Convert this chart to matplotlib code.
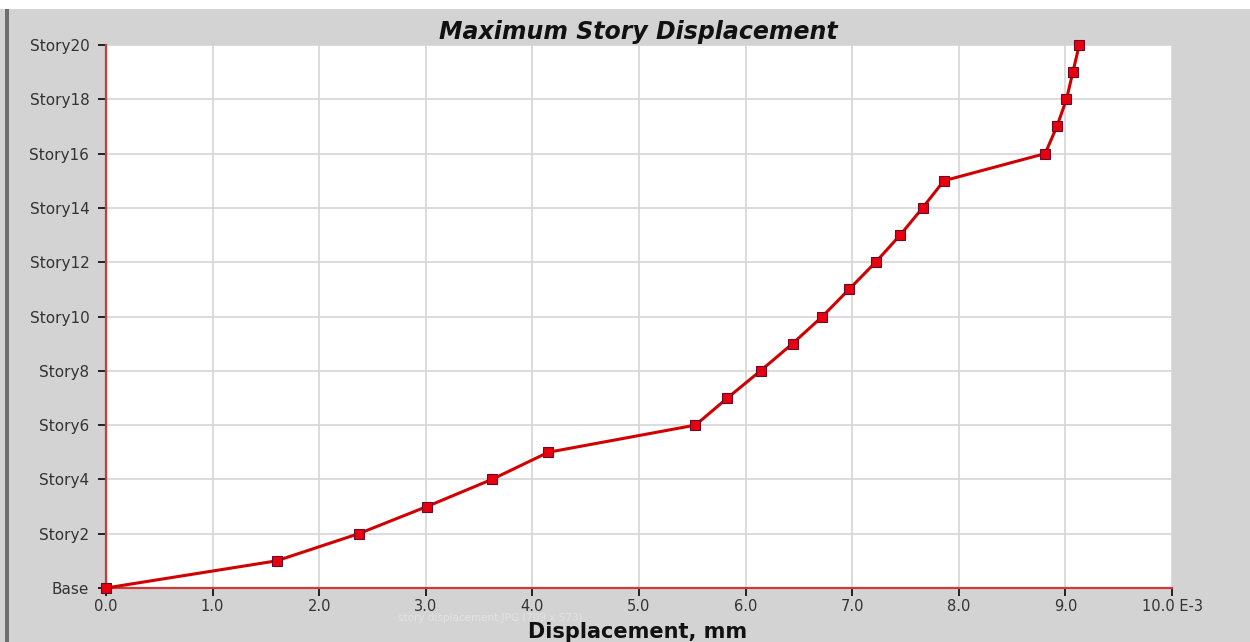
import matplotlib
matplotlib.use("Agg")
import matplotlib.pyplot as plt
from matplotlib.patches import Rectangle

# story levels (0 = Base) and peak lateral displacement in mm (x 1E-3)
stories = list(range(21))
displacement = [0.00, 1.60, 2.37, 3.01, 3.62, 4.15, 5.53, 5.83, 6.14, 6.44,
                6.72, 6.97, 7.22, 7.45, 7.66, 7.86, 8.81, 8.92, 9.01, 9.07, 9.13]

ytick_pos = list(range(0, 21, 2))
ytick_labels = ["Base"] + [f"Story{n}" for n in range(2, 21, 2)]
xtick_pos = [0, 1, 2, 3, 4, 5, 6, 7, 8, 9, 10]
xtick_labels = [f"{v:.1f}" for v in xtick_pos[:-1]] + ["10.0 E-3"]

BG = "#d3d3d3"
LINE = "#d00000"
SPINE = "#cc3a3a"

fig = plt.figure(figsize=(12.5, 6.42), dpi=100, facecolor=BG)
ax = fig.add_axes([106 / 1250, 1 - 588 / 642, (1172 - 106) / 1250, (588 - 45) / 642])
ax.set_facecolor("white")

ax.plot(displacement, stories, color=LINE, lw=2.2, marker="s", ms=7,
        mfc="#e8000f", mec="#6a0a2a", mew=0.8, zorder=5, clip_on=False)

ax.set_xlim(0, 10)
ax.set_ylim(0, 20)
ax.set_xticks(xtick_pos)
ax.set_xticklabels(xtick_labels)
ax.set_yticks(ytick_pos)
ax.set_yticklabels(ytick_labels)
ax.grid(True, color="#d6d6d6", lw=1.2)
ax.set_axisbelow(True)

for side in ("top", "right"):
    ax.spines[side].set_visible(False)
for side in ("left", "bottom"):
    ax.spines[side].set_color(SPINE)
    ax.spines[side].set_linewidth(1.6)

ax.tick_params(axis="both", direction="out", length=6, width=1.4, color="#222222",
               labelsize=11, labelcolor="#333333")
ax.tick_params(axis="x", pad=2, labelsize=10.5)
ax.tick_params(axis="y", pad=6)

# window chrome: white strip on top, dark frame on the left
fig.patches.append(Rectangle((0, 1 - 9 / 642), 1, 9 / 642, transform=fig.transFigure,
                             facecolor="white", edgecolor="none"))
fig.patches.append(Rectangle((5 / 1250, 0), 4 / 1250, 1 - 9 / 642, transform=fig.transFigure,
                             facecolor="#6e6e6e", edgecolor="none"))

fig.text(638 / 1250, 1 - 32 / 642, "Maximum Story Displacement", ha="center", va="center",
         fontsize=17, fontweight="bold", fontstyle="italic", color="#111111")
fig.text(490 / 1250, 1 - 618 / 642, "story displacement.JPG (709 x 573)", ha="center",
         va="center", fontsize=7.5, color="white", alpha=0.35)
fig.text(638 / 1250, 1 - 632 / 642, "Displacement, mm", ha="center", va="center",
         fontsize=15, fontweight="bold", color="#111111")

fig.savefig("out.png", dpi=100, facecolor=fig.get_facecolor())
